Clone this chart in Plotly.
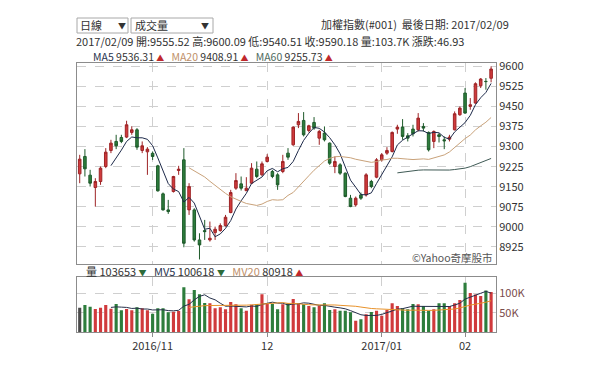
import plotly.graph_objects as go

dates = [
    "2016/10/12", "2016/10/13", "2016/10/14", "2016/10/17", "2016/10/18", "2016/10/19", "2016/10/20",
    "2016/10/21", "2016/10/24", "2016/10/25", "2016/10/26", "2016/10/27", "2016/10/28", "2016/10/31",
    "2016/11/01", "2016/11/02", "2016/11/03", "2016/11/04", "2016/11/07", "2016/11/08", "2016/11/09",
    "2016/11/10", "2016/11/11", "2016/11/14", "2016/11/15", "2016/11/16", "2016/11/17", "2016/11/18",
    "2016/11/21", "2016/11/22", "2016/11/23", "2016/11/24", "2016/11/25", "2016/11/28", "2016/11/29",
    "2016/11/30", "2016/12/01", "2016/12/02", "2016/12/05", "2016/12/06", "2016/12/07", "2016/12/08",
    "2016/12/09", "2016/12/12", "2016/12/13", "2016/12/14", "2016/12/15", "2016/12/16", "2016/12/19",
    "2016/12/20", "2016/12/21", "2016/12/22", "2016/12/23", "2016/12/26", "2016/12/27", "2016/12/28",
    "2016/12/29", "2016/12/30", "2017/01/03", "2017/01/04", "2017/01/05", "2017/01/06", "2017/01/09",
    "2017/01/10", "2017/01/11", "2017/01/12", "2017/01/13", "2017/01/16", "2017/01/17", "2017/01/18",
    "2017/01/19", "2017/01/20", "2017/01/23", "2017/01/24", "2017/02/02", "2017/02/03", "2017/02/06",
    "2017/02/07", "2017/02/08", "2017/02/09",
]

open_ = [
    9198.2, 9263.1, 9193.2, 9147.0, 9169.5, 9225.6, 9285.6, 9319.3, 9334.2, 9335.5,
    9353.0, 9363.0, 9285.6, 9280.6, 9275.0, 9228.1, 9123.3, 9063.4, 9132.0, 9210.7,
    9250.6, 9063.4, 9063.4, 8951.0, 8986.0, 8951.0, 8978.5, 8986.0, 9004.7, 9053.4,
    9144.5, 9160.7, 9135.0, 9163.2, 9215.6, 9194.4, 9244.4, 9206.9, 9194.4, 9206.9,
    9275.6, 9306.8, 9381.7, 9397.9, 9360.5, 9390.4, 9331.7, 9350.5, 9313.0, 9225.6,
    9231.9, 9200.7, 9107.1, 9082.1, 9119.5, 9119.5, 9169.5, 9185.7, 9250.6, 9275.6,
    9281.8, 9365.5, 9372.9, 9340.5, 9365.5, 9363.0, 9375.5, 9353.0, 9319.3, 9344.2,
    9325.5, 9328.0, 9363.0, 9419.1, 9500.3, 9450.3, 9462.8, 9527.7, 9543.9, 9555.52,
]
high = [
    9269.3, 9290.5, 9213.2, 9181.9, 9225.6, 9294.3, 9325.5, 9344.2, 9344.2, 9396.7,
    9375.5, 9369.2, 9319.3, 9298.0, 9282.0, 9231.9, 9128.3, 9100.8, 9190.7, 9228.1,
    9294.3, 9163.2, 9069.6, 8976.0, 9025.9, 9019.7, 9000.9, 9013.0, 9044.6, 9138.3,
    9200.7, 9188.2, 9185.7, 9238.1, 9244.4, 9244.4, 9271.8, 9213.2, 9200.7, 9269.3,
    9294.3, 9375.5, 9425.4, 9429.1, 9381.7, 9410.4, 9363.0, 9375.5, 9315.5, 9263.1,
    9238.1, 9203.2, 9119.5, 9113.3, 9128.3, 9200.7, 9175.7, 9256.9, 9275.6, 9298.0,
    9356.7, 9381.7, 9402.9, 9350.5, 9381.7, 9425.4, 9387.9, 9356.7, 9360.5, 9350.5,
    9338.0, 9344.2, 9431.6, 9450.3, 9519.0, 9481.5, 9540.2, 9556.4, 9556.4, 9600.09,
]
low = [
    9163.2, 9188.2, 9150.7, 9075.8, 9157.0, 9219.4, 9275.6, 9290.5, 9313.0, 9331.7,
    9344.2, 9288.1, 9275.6, 9194.4, 9250.0, 9132.0, 9060.9, 9048.4, 9128.3, 9194.4,
    8923.6, 9044.6, 8944.8, 8878.0, 8951.0, 8944.8, 8951.0, 8982.0, 9000.9, 9050.9,
    9138.3, 9135.8, 9138.0, 9160.7, 9181.9, 9190.7, 9240.6, 9181.9, 9138.3, 9200.7,
    9250.6, 9303.0, 9369.2, 9338.0, 9353.0, 9363.0, 9306.8, 9319.3, 9231.9, 9200.7,
    9194.4, 9110.8, 9073.4, 9075.8, 9100.8, 9113.3, 9144.5, 9181.9, 9244.4, 9269.3,
    9278.1, 9348.0, 9325.5, 9319.3, 9338.0, 9356.7, 9356.7, 9281.8, 9294.3, 9315.5,
    9290.5, 9319.3, 9360.5, 9415.4, 9422.9, 9437.9, 9460.3, 9519.0, 9512.8, 9540.51,
]
close = [
    9253.1, 9216.9, 9163.2, 9169.5, 9219.4, 9279.3, 9313.0, 9303.0, 9319.3, 9381.7,
    9363.0, 9298.0, 9303.0, 9290.5, 9263.0, 9134.5, 9063.4, 9057.1, 9188.2, 9215.6,
    8938.5, 9150.7, 8951.0, 8932.3, 8982.2, 8957.3, 8991.0, 9004.7, 9035.9, 9128.3,
    9173.2, 9144.5, 9144.5, 9219.4, 9188.2, 9235.6, 9260.6, 9188.2, 9157.0, 9244.4,
    9260.6, 9372.9, 9394.2, 9344.2, 9377.9, 9369.2, 9356.7, 9325.5, 9238.1, 9244.4,
    9200.7, 9113.3, 9075.8, 9107.1, 9107.1, 9194.4, 9150.7, 9250.6, 9269.3, 9285.6,
    9353.0, 9372.9, 9338.0, 9331.7, 9348.0, 9406.6, 9369.2, 9288.1, 9356.7, 9338.0,
    9321.8, 9335.5, 9422.9, 9444.1, 9425.4, 9456.6, 9535.2, 9552.7, 9543.25, 9590.18,
]

ma5 = [None] * 6 + [
    9228.9, 9256.8, 9286.8, 9319.3, 9336.0, 9333.0, 9333.0, 9327.2, 9303.5, 9257.8,
    9210.9, 9161.7, 9141.2, 9131.8, 9092.6, 9110.0, 9088.8, 9037.6, 8990.9, 8994.7,
    8962.8, 8973.5, 8994.2, 9023.4, 9066.6, 9097.3, 9125.3, 9162.0, 9174.0, 9186.4,
    9209.7, 9218.4, 9205.9, 9217.2, 9222.2, 9244.6, 9285.8, 9323.3, 9350.0, 9371.7,
    9368.4, 9354.7, 9333.5, 9306.8, 9273.1, 9224.4, 9174.5, 9148.3, 9120.8, 9119.5,
    9127.0, 9162.0, 9194.4, 9230.1, 9261.8, 9306.3, 9323.8, 9336.2, 9348.7, 9359.4,
    9358.7, 9348.7, 9353.7, 9351.7, 9334.8, 9328.0, 9355.0, 9372.5, 9389.9, 9416.9,
    9456.8, 9482.8, 9502.6, 9536.31,
]
ma20 = [None] * 21 + [
    9220.7, 9210.1, 9198.2, 9186.4, 9170.3, 9154.2, 9139.3, 9125.1, 9112.4, 9102.9,
    9095.2, 9087.3, 9083.8, 9080.0, 9085.1, 9094.9, 9101.5, 9099.9, 9101.4, 9117.5,
    9128.6, 9150.8, 9171.3, 9191.1, 9211.7, 9230.0, 9246.1, 9256.2, 9262.0, 9263.3,
    9261.8, 9258.3, 9252.7, 9248.7, 9246.6, 9241.1, 9244.2, 9249.9, 9251.9, 9256.5,
    9256.5, 9253.7, 9253.1, 9251.6, 9253.5, 9254.1, 9252.2, 9258.2, 9262.8, 9268.9,
    9280.0, 9297.4, 9314.2, 9330.1, 9343.2, 9362.5, 9377.6, 9391.3, 9408.91,
]
ma60 = [None] * 61 + [
    9201.9, 9204.9, 9207.6, 9209.7, 9211.8, 9212.8, 9212.5, 9213.1, 9212.4, 9211.7,
    9212.3, 9214.3, 9216.9, 9219.6, 9225.0, 9232.8, 9241.1, 9247.0, 9255.73,
]

volume = [
    63000, 70000, 65600, 59600, 63000, 70000, 60400, 72500, 56200, 59600,
    56200, 64000, 61400, 56200, 47500, 61400, 61400, 51000, 52600, 54400,
    115800, 84700, 108800, 97600, 75100, 74300, 61400, 64000, 58800, 77700,
    71700, 61400, 55200, 70800, 72500, 97600, 72500, 72500, 58800, 71700,
    74300, 85500, 74300, 71700, 67400, 64000, 67400, 74300, 57000, 58800,
    55200, 55200, 51000, 29300, 32800, 45800, 51800, 55200, 42200, 57000,
    74300, 67400, 61400, 58800, 72500, 71700, 67400, 55200, 58800, 74300,
    74300, 67400, 74300, 82900, 127700, 101000, 97000, 93000, 107500, 103653,
]
mv5 = [None] * 6 + [
    63700, 65100, 64400, 63700, 61000, 61700, 59500, 59500, 57100, 58100,
    57600, 55500, 54800, 56200, 67000, 71700, 83300, 92300, 96400, 88100,
    83400, 74500, 66700, 67200, 66700, 66700, 65000, 67400, 66300, 71500,
    73700, 77200, 74800, 74600, 70000, 72600, 72900, 75500, 74600, 72600,
    69000, 69000, 66000, 64300, 62500, 60100, 55400, 49900, 44700, 42800,
    42100, 43000, 45600, 50400, 56100, 59200, 60500, 63800, 66900, 66400,
    66400, 65100, 65100, 65500, 66000, 66000, 69800, 74600, 85300, 90700,
    96600, 100300, 105200, 100618,
]
mv20 = [None] * 21 + [
    63700, 65800, 67700, 68300, 68600, 68600, 68200, 68300, 69200, 70000,
    69900, 69600, 70300, 71500, 73300, 73900, 75000, 75300, 76100, 74100,
    74100, 72400, 71100, 70700, 70200, 70500, 71000, 70900, 70000, 69100,
    68800, 68600, 66600, 64600, 62000, 60900, 60100, 59200, 58500, 58500,
    57600, 57000, 56300, 56600, 57000, 57000, 56000, 56100, 56900, 57800,
    58400, 59600, 62300, 67000, 69800, 72000, 73900, 77200, 80918,
]

price_ticks = [8925, 9000, 9075, 9150, 9225, 9300, 9375, 9450, 9525, 9600]
month_ticks = ["2016/11/01", "2016/12/01", "2017/01/03", "2017/02/02"]
month_labels = ["2016/11", "12", "2017/01", "02"]
vol_ticks = [50000, 100000]
vol_labels = ["50K", "100K"]

UP_FILL, UP_LINE = "#d03a3c", "#9e2426"
DN_FILL, DN_LINE = "#2d7d3c", "#1e5a2a"
FONT = "Noto Sans CJK TC"

vol_colors = []
for i in range(len(close)):
    if i == 0:
        vol_colors.append("#4a4a4a")
    elif close[i] >= open_[i]:
        vol_colors.append(UP_FILL)
    else:
        vol_colors.append(DN_FILL)

fig = go.Figure()
fig.add_trace(go.Candlestick(
    x=dates, open=open_, high=high, low=low, close=close,
    increasing=dict(fillcolor=UP_FILL, line=dict(color=UP_LINE, width=1)),
    decreasing=dict(fillcolor=DN_FILL, line=dict(color=DN_LINE, width=1)),
    whiskerwidth=0, xaxis="x", yaxis="y", showlegend=False, hoverinfo="skip",
))
fig.add_trace(go.Scatter(x=dates, y=ma5, mode="lines", line=dict(color="#1e2a4a", width=1),
                         xaxis="x", yaxis="y", showlegend=False, hoverinfo="skip"))
fig.add_trace(go.Scatter(x=dates, y=ma20, mode="lines", line=dict(color="#c9a27a", width=1),
                         xaxis="x", yaxis="y", showlegend=False, hoverinfo="skip"))
fig.add_trace(go.Scatter(x=dates, y=ma60, mode="lines", line=dict(color="#3f5a55", width=1),
                         xaxis="x", yaxis="y", showlegend=False, hoverinfo="skip"))
fig.add_trace(go.Bar(x=dates, y=volume, marker=dict(color=vol_colors, line=dict(width=0)),
                     xaxis="x2", yaxis="y2", showlegend=False, hoverinfo="skip"))
fig.add_trace(go.Scatter(x=dates, y=mv5, mode="lines", line=dict(color="#26304a", width=1),
                         xaxis="x2", yaxis="y2", showlegend=False, hoverinfo="skip"))
fig.add_trace(go.Scatter(x=dates, y=mv20, mode="lines", line=dict(color="#e8922a", width=1),
                         xaxis="x2", yaxis="y2", showlegend=False, hoverinfo="skip"))

# the page body has an 8px margin, so the figure is drawn 8px smaller and
# every reference pixel coordinate is shifted by that offset
OFF = 8
W, H = 600 - OFF, 371 - OFF
L, R, T, B = 77 - OFF, 496 - OFF, 63 - OFF, 332 - OFF


def px(x):
    return (x - OFF - L) / (R - L)


def py(y):
    return (B - (y - OFF)) / (B - T)


main_bottom = 264
vol_top = 277.3
xr = [-0.52, len(dates) - 1 + 0.94]

axis_common = dict(type="category", range=xr, tickmode="array", tickvals=month_ticks,
                   showgrid=True, gridcolor="#cfcfcf", griddash="dash", gridwidth=1,
                   showline=True, linecolor="#8c8c8c", linewidth=1, mirror=True,
                   zeroline=False, fixedrange=True)

fig.update_layout(
    width=W, height=H,
    margin=dict(l=L, r=W - R, t=T, b=H - B),
    paper_bgcolor="white", plot_bgcolor="white",
    font=dict(family=FONT, size=11, color="#333333"),
    bargap=0.4,
    xaxis=dict(**axis_common, anchor="y", showticklabels=False, ticks="",
               rangeslider=dict(visible=False)),
    xaxis2=dict(**axis_common, anchor="y2", ticktext=month_labels, ticks="outside",
                ticklen=4, tickcolor="#8c8c8c", tickfont=dict(size=11, color="#333333")),
    yaxis=dict(domain=[py(main_bottom), 1], range=[8861, 9612.7], side="right",
               tickmode="array", tickvals=price_ticks, ticks="",
               showgrid=True, gridcolor="#cfcfcf", griddash="dash",
               showline=True, linecolor="#8c8c8c", mirror=True, zeroline=False,
               tickfont=dict(size=11, color="#333333"), fixedrange=True),
    yaxis2=dict(domain=[0, py(vol_top)], range=[0, 141700], side="right",
                tickmode="array", tickvals=vol_ticks, ticktext=vol_labels, ticks="",
                showgrid=True, gridcolor="#cfcfcf", griddash="dash",
                showline=True, linecolor="#8c8c8c", mirror=True, zeroline=False,
                tickfont=dict(size=11, color="#7a4b4b"), fixedrange=True),
)

shapes = []
for x0, x1 in [(77, 128), (131, 213)]:
    shapes.append(dict(type="rect", xref="paper", yref="paper",
                       x0=px(x0), x1=px(x1), y0=py(33), y1=py(18),
                       line=dict(color="#a8a8a8", width=1), fillcolor="white", layer="above"))
fig.update_layout(shapes=shapes)

UP_TRI = "<span style='color:#c0282c;font-size:8px'>▲</span>"
DN_TRI = "<span style='color:#2d6b3a;font-size:8px'>▼</span>"


def ann(x, y, text, anchor="left", size=11, color="#333333"):
    fig.add_annotation(xref="paper", yref="paper", x=px(x), y=py(y), text=text,
                       showarrow=False, xanchor=anchor, yanchor="middle", borderpad=0,
                       font=dict(family=FONT, size=size, color=color))


ann(79, 25.5, "日線", size=11)
ann(122, 25.5, "▼", anchor="center", size=8)
ann(134, 25.5, "成交量", size=11)
ann(205, 25.5, "▼", anchor="center", size=8)
ann(320, 24, "加權指數(#001)&nbsp;&nbsp;最後日期: 2017/02/09", size=11)
ann(75, 41.5,
    "2017/02/09 開:9555.52 高:9600.09 低:9540.51 收:9590.18 量:103.7K 漲跌:46.93", size=11)
ann(92, 57,
    "<span style='color:#2a3550'>MA5</span> 9536.31 " + UP_TRI +
    "&nbsp;&nbsp;&nbsp;<span style='color:#c0906a'>MA20</span> 9408.91 " + UP_TRI +
    "&nbsp;&nbsp;&nbsp;<span style='color:#4f6a60'>MA60</span> 9255.73 " + UP_TRI, size=10.5)
ann(85, 271,
    "量 103653 " + DN_TRI +
    "&nbsp;&nbsp;&nbsp;<span style='color:#2a3550'>MV5</span> 100618 " + DN_TRI +
    "&nbsp;&nbsp;&nbsp;<span style='color:#c0906a'>MV20</span> 80918 " + UP_TRI, size=11)
ann(494, 257, "©Yahoo奇摩股市", anchor="right", size=10.5, color="#555555")

fig.write_html("out.html")
